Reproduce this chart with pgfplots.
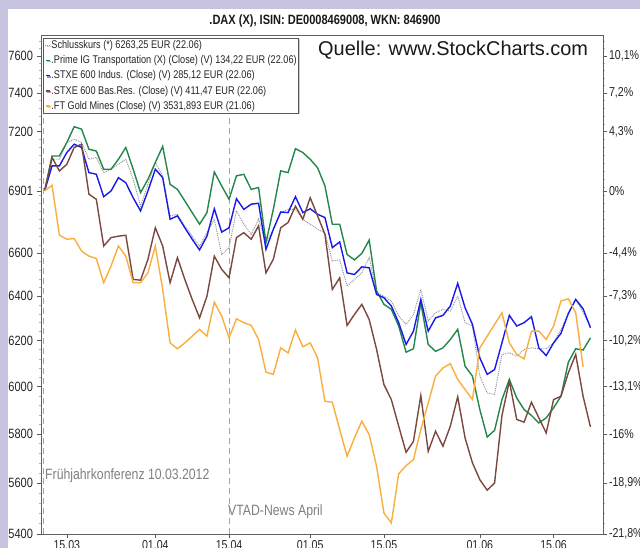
\documentclass[border=0pt]{standalone}
\usepackage{fontspec}
\setmainfont{Liberation Sans}
\newfontfamily\narrow[FakeStretch=0.82]{Liberation Sans}
\usepackage{pgfplots}
\usepackage{pgfplotstable}
\pgfplotsset{compat=1.18}
\usetikzlibrary{shadows}
\definecolor{lav}{RGB}{197,195,222}
\definecolor{cgreen}{RGB}{35,135,75}
\definecolor{cblue}{RGB}{25,25,235}
\definecolor{cbrown}{RGB}{122,72,62}
\definecolor{corange}{RGB}{250,175,60}
\definecolor{cdax}{RGB}{140,140,140}
\pgfplotstableread{
i dax green blue brown gold
0 6901 6901 6901 6901 6901
1 7058 7075 7025 7067 6928
2 7058 7075 7025 7000 6685
3 7143 7143 7092 7033 6666
4 7160 7225 7135 7118 6669
5 7143 7212 7118 7135 6610
6 7058 7109 6991 6884 6586
7 7067 7100 6983 6859 6575
8 6991 7008 6872 6634 6462
9 7008 7008 6900 6674 6540
10 7033 7058 6966 6681 6634
11 7058 7118 6941 6685 6586
12 6958 7008 6867 6477 6462
13 6826 6892 6802 6474 6462
14 6933 6958 6900 6571 6508
15 7042 7042 7008 6721 6634
16 6975 7123 6966 6634 6431
17 6778 6933 6762 6462 6190
18 6786 6908 6778 6579 6164
19 6730 6851 6721 6477 6190
20 6681 6794 6666 6385 6220
21 6634 6738 6615 6302 6250
22 6697 6794 6681 6400 6220
23 6762 6995 6813 6586 6373
24 6594 6925 6700 6524 6310
25 6626 6859 6721 6485 6212
26 6802 6975 6862 6674 6297
27 6738 6983 6810 6697 6280
28 6689 6908 6835 6666 6268
29 6762 6917 6840 6730 6205
30 6650 6650 6618 6508 6062
31 6713 6810 6713 6571 6052
32 6794 7000 6797 6721 6168
33 6810 6991 6794 6746 6146
34 6810 7112 6872 6826 6247
35 6762 7092 6794 6762 6173
36 6738 7058 6813 6867 6190
37 6713 7016 6786 6778 6124
38 6697 6925 6770 6689 5937
39 6563 6738 6626 6431 5933
40 6568 6738 6653 6485 5818
41 6447 6594 6508 6268 5708
42 6477 6568 6500 6317 5783
43 6508 6599 6536 6363 5853
44 6579 6662 6531 6294 5797
45 6416 6424 6408 6161 5667
46 6400 6363 6393 6008 5481
47 6378 6340 6355 5944 5442
48 6310 6265 6280 5832 5637
49 6272 6149 6183 5724 5670
50 6317 6164 6242 5769 5694
51 6431 6370 6385 5961 5818
52 6287 6183 6242 5728 5930
53 6325 6153 6302 5811 6044
54 6340 6168 6313 5749 6080
55 6332 6205 6355 5832 6099
56 6400 6250 6459 5956 6030
57 6280 6088 6347 5783 5987
58 6265 6044 6272 5681 5944
59 6044 5902 6124 5613 6168
60 5973 5787 6052 5571 6220
61 5966 5815 6073 5600 6272
62 6139 5944 6190 5877 6325
63 6146 6030 6313 6023 6190
64 6131 5951 6265 5860 6139
65 6161 5902 6280 5849 6120
66 6168 5877 6307 5933 6242
67 6164 5846 6168 5867 6242
68 6164 5867 6134 5804 6205
69 6190 5909 6190 5944 6265
70 6250 5958 6232 5958 6378
71 6317 6105 6322 6059 6388
72 6388 6164 6385 6139 6325
73 6325 6158 6343 5958 6085
74 6265 6212 6257 5829 nan
}\datatable
\begin{document}
\begin{tikzpicture}
\path[use as bounding box, fill=lav] (0,0) rectangle (640bp,548bp);
\fill[white] (8bp,0) rectangle (640bp,539bp);
\begin{axis}[
  at={(41bp,14bp)}, anchor=south west, scale only axis,
  width=562bp, height=499bp,
  ymode=log, ymin=5400, ymax=7715, xmin=-0.5, xmax=75.7,
  axis line style={draw=gray!75!black, line width=0.6bp},
  ytick={5400,5600,5800,6000,6200,6400,6600,6901,7200,7400,7600},
  yticklabels={5400,5600,5800,6000,6200,6400,6600,6901,7200,7400,7600},
  minor ytick={5440,5480,...,7680},
  xtick={3,15,25,36,46,59,69},
  xticklabels={15.03,01.04,15.04,01.05,15.05,01.06,15.06},
  xtick pos=bottom, ytick pos=left,
  tick align=outside, major tick length=4bp, minor tick length=2bp,
  tick style={gray!70!black, line width=0.5bp},
  minor tick style={gray!60, line width=0.4bp},
  yticklabel style={font=\narrow\fontsize{13.5}{15}\selectfont, text=black!85, xshift=-0.5bp},
  xticklabel style={font=\narrow\fontsize{13}{15}\selectfont, text=black!85, yshift=1bp},
  legend cell align=left,
  legend style={at={(rel axis cs:0.0036,0.994)}, anchor=north west,
    draw=gray!70!black, fill=white, line width=0.6bp,
    drop shadow={shadow xshift=1.2bp, shadow yshift=-1.2bp, fill=gray!80},
    font=\narrow\fontsize{11.2}{12}\selectfont, text=black!85,
    row sep=4.3bp, inner xsep=1.5bp, inner ysep=2bp,
    nodes={inner sep=0.6bp}},
]
\draw[gray!70, dashed, dash pattern=on 6bp off 4bp, line width=0.6bp] (axis cs:-0.2,5400) -- (axis cs:-0.2,7715);
\draw[gray!70, dashed, dash pattern=on 6bp off 4bp, line width=0.6bp] (axis cs:25,5400) -- (axis cs:25,7715);
\addplot[cdax, densely dotted, line width=0.9bp, legend image code/.code={\draw[cdax, line width=1bp, dash pattern=on 1bp off 1bp] (0bp,0bp) -- (5bp,0bp);}] table[x=i, y=dax] {\datatable};
\addlegendentry{Schlusskurs (*) 6263,25 EUR (22.06)}
\addplot[cgreen, line width=1.4bp, legend image code/.code={\draw[cgreen, line width=1.5bp] (0.5bp,0bp) -- (4.5bp,0bp);}] table[x=i, y=green] {\datatable};
\addlegendentry{.Prime IG Transportation (X) (Close) (V) 134,22 EUR (22.06)}
\addplot[cblue, line width=1.4bp, legend image code/.code={\draw[cblue, line width=1.5bp] (0.5bp,0bp) -- (4.5bp,0bp);}] table[x=i, y=blue] {\datatable};
\addlegendentry{.STXE 600 Indus. (Close) (V) 285,12 EUR (22.06)}
\addplot[cbrown, line width=1.4bp, legend image code/.code={\draw[cbrown, line width=1.5bp] (0.5bp,0bp) -- (4.5bp,0bp);}] table[x=i, y=brown] {\datatable};
\addlegendentry{.STXE 600 Bas.Res. (Close) (V) 411,47 EUR (22.06)}
\addplot[corange, line width=1.4bp, legend image code/.code={\draw[corange, line width=1.5bp] (0.5bp,0bp) -- (4.5bp,0bp);}] table[x=i, y=gold] {\datatable};
\addlegendentry{.FT Gold Mines (Close) (V) 3531,893 EUR (21.06)}
\end{axis}
\begin{axis}[
  at={(41bp,14bp)}, anchor=south west, scale only axis,
  width=562bp, height=499bp,
  ymode=log, ymin=5400, ymax=7715, xmin=-0.5, xmax=75.7,
  axis x line=none, axis y line*=right,
  axis line style={draw=gray!75!black, line width=0.6bp},
  ytick={5400,5600,5800,6000,6200,6400,6600,6901,7200,7400,7600},
  yticklabels={{-21,8\%},{-18,9\%},{-16\%},{-13,1\%},{-10,2\%},{-7,3\%},{-4,4\%},{0\%},{4,3\%},{7,2\%},{10,1\%}},
  minor ytick={5440,5480,...,7680},
  tick align=outside, major tick length=4bp, minor tick length=2bp,
  tick style={gray!70!black, line width=0.5bp},
  minor tick style={gray!60, line width=0.4bp},
  yticklabel style={font=\narrow\fontsize{13}{15}\selectfont, text=black!85, xshift=-1.5bp},
]
\end{axis}
\node[anchor=base, font=\narrow\bfseries\fontsize{13.5}{15}\selectfont, text=black!90] at (325bp,523bp) {.DAX (X), ISIN: DE0008469008, WKN: 846900};
\node[anchor=base west, font=\fontsize{20}{22}\selectfont, text=black!90, inner sep=0] at (318bp,492bp) {Quelle: www.StockCharts.com};
\node[anchor=base west, font=\narrow\fontsize{15}{17}\selectfont, text=gray, inner sep=0] at (45bp,68bp) {Frühjahrkonferenz 10.03.2012};
\node[anchor=base west, font=\narrow\fontsize{15}{17}\selectfont, text=gray, inner sep=0] at (228bp,33bp) {VTAD-News April};
\end{tikzpicture}
\end{document}
